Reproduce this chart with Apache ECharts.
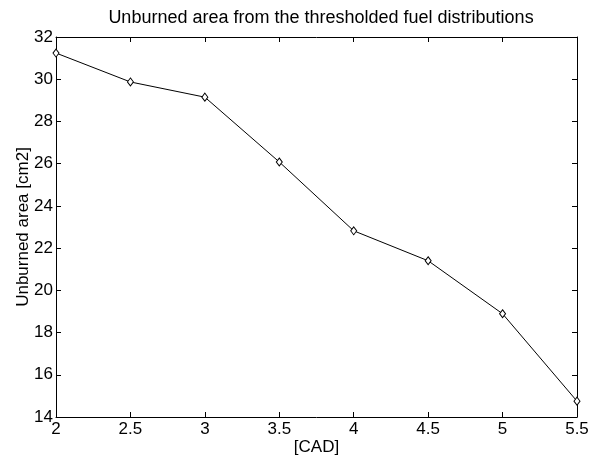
<!DOCTYPE html>
<html><head><meta charset="utf-8">
<script src="https://cdn.jsdelivr.net/npm/echarts@6/dist/echarts.min.js"></script>
<style>html,body{margin:0;padding:0;background:#fff}#c{width:599px;height:459px}</style>
</head><body><div id="c"></div>
<script>
var xValues = [2, 2.5, 3, 3.5, 4, 4.5, 5, 5.5];
var yValues = [31.24, 29.87, 29.15, 26.08, 22.82, 21.4, 18.89, 14.75];
var titleText = 'Unburned area from the thresholded fuel distributions';
var xName = '[CAD]';
var yName = 'Unburned area [cm2]';

var font = 'Liberation Sans, Arial, Helvetica, sans-serif';
var fs = 17;
var axisLine = {show: true, lineStyle: {color: '#000', width: 1}};
var tick = {show: true, inside: true, length: 5, lineStyle: {color: '#000'}};
var chart = echarts.init(document.getElementById('c'));
chart.setOption({
  animation: false,
  backgroundColor: '#fff',
  title: {text: titleText, left: 316, top: 4, textAlign: 'center',
    textStyle: {fontFamily: font, fontSize: 18, fontWeight: 'normal', color: '#000'}},
  grid: {left: 56, right: 22, top: 37, bottom: 42, containLabel: false, outerBoundsMode: 'none'},
  xAxis: [
    {type: 'value', min: 2, max: 5.5, interval: 0.5, position: 'bottom',
     name: xName, nameLocation: 'middle', nameGap: 22, nameMoveOverlap: false,
     nameTextStyle: {fontFamily: font, fontSize: fs, color: '#000'},
     axisLine: axisLine, axisTick: tick, splitLine: {show: false},
     axisLabel: {fontFamily: font, fontSize: fs, color: '#000', margin: 4}},
    {type: 'value', min: 2, max: 5.5, interval: 0.5, position: 'top',
     axisLine: axisLine, axisTick: tick, splitLine: {show: false}, axisLabel: {show: false}}
  ],
  yAxis: [
    {type: 'value', min: 14, max: 32, interval: 2, position: 'left',
     name: yName, nameLocation: 'middle', nameGap: 24, nameMoveOverlap: false,
     nameTextStyle: {fontFamily: font, fontSize: fs, color: '#000'},
     axisLine: axisLine, axisTick: tick, splitLine: {show: false},
     axisLabel: {fontFamily: font, fontSize: fs, color: '#000', margin: 3}},
    {type: 'value', min: 14, max: 32, interval: 2, position: 'right',
     axisLine: axisLine, axisTick: tick, splitLine: {show: false}, axisLabel: {show: false}}
  ],
  series: [{
    type: 'line',
    data: xValues.map(function (x, i) { return [x, yValues[i]]; }),
    symbol: 'diamond', symbolSize: [6, 8], showAllSymbol: true,
    lineStyle: {color: '#000', width: 1},
    itemStyle: {color: '#fff', borderColor: '#000', borderWidth: 1},
    clip: false
  }]
});
</script></body></html>
